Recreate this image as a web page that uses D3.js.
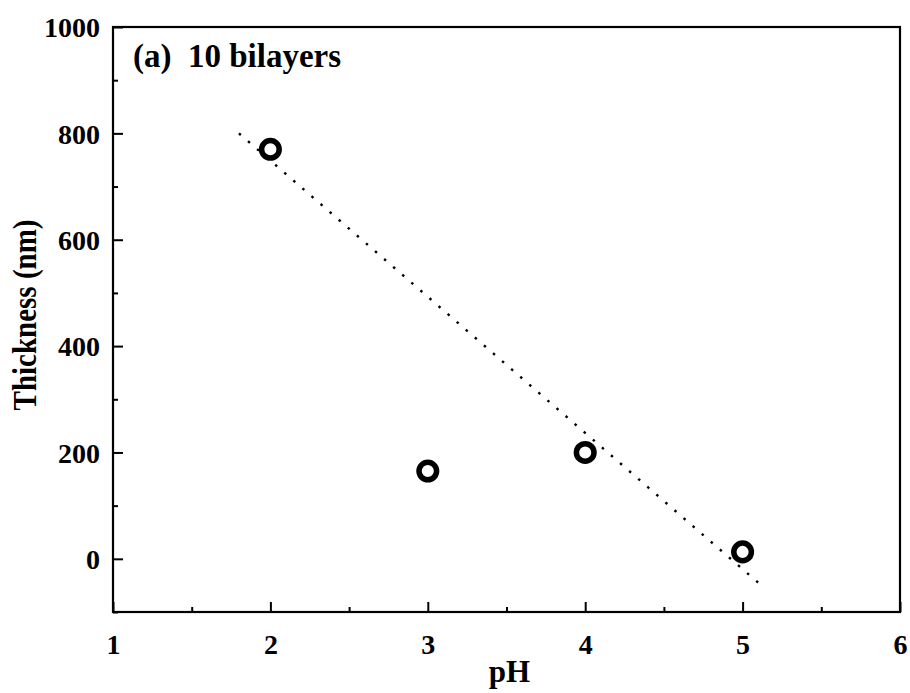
<!DOCTYPE html>
<html>
<head>
<meta charset="utf-8">
<script src="https://cdn.jsdelivr.net/npm/d3@7"></script>
<style>
  html, body { margin: 0; padding: 0; background: #fff; }
  svg { display: block; }
  text { font-family: "Liberation Serif", "Times New Roman", serif; font-weight: bold; fill: #000; }
</style>
</head>
<body>
<script>
// Film thickness after 10 bilayers versus deposition pH
const pH = [2, 3, 4, 5];
const thickness = [770, 165, 200, 13];

// Linear trend line (dotted), endpoints in data units
const fitX = [1.8, 5.1];
const fitY = [800, -45];

const xTicks = [1, 2, 3, 4, 5, 6];
const xMinorTicks = [1.5, 2.5, 3.5, 4.5, 5.5];
const yTicks = [0, 200, 400, 600, 800, 1000];
const yMinorTicks = [-100, 100, 300, 500, 700, 900];

const W = 910, H = 693;
const margin = { left: 113, right: 10, top: 27, bottom: 81 };

const svg = d3.select("body").append("svg").attr("width", W).attr("height", H);

const x = d3.scaleLinear().domain([1, 6]).range([margin.left, W - margin.right]);
const y = d3.scaleLinear().domain([-100, 1000]).range([H - margin.bottom, margin.top]);

const x0 = x.range()[0], x1 = x.range()[1];
const y0 = y.range()[0], y1 = y.range()[1];

// Bottom axis: major ticks inward with labels, minor ticks inward
const xAxis = svg.append("g").attr("transform", `translate(0,${y0})`)
  .call(d3.axisBottom(x).tickValues(xTicks).tickFormat(d3.format("d")).tickSize(-10).tickPadding(22));
const xMinor = svg.append("g").attr("transform", `translate(0,${y0})`)
  .call(d3.axisBottom(x).tickValues(xMinorTicks).tickFormat("").tickSize(-5));

// Left axis
const yAxis = svg.append("g").attr("transform", `translate(${x0},0)`)
  .call(d3.axisLeft(y).tickValues(yTicks).tickFormat(d3.format("d")).tickSize(-10).tickPadding(13));
const yMinor = svg.append("g").attr("transform", `translate(${x0},0)`)
  .call(d3.axisLeft(y).tickValues(yMinorTicks).tickFormat("").tickSize(-5));

[xAxis, xMinor, yAxis, yMinor].forEach(g => {
  g.select(".domain").remove();
  g.selectAll(".tick line").attr("stroke", "#000").attr("stroke-width", 2);
  g.selectAll(".tick text").style("font-size", "28px").attr("fill", "#000");
});
yAxis.selectAll(".tick text").attr("dy", "0.35em");

// Frame
svg.append("rect")
  .attr("x", x0).attr("y", y1)
  .attr("width", x1 - x0).attr("height", y0 - y1)
  .attr("fill", "none").attr("stroke", "#000").attr("stroke-width", 2.2);

// Dotted trend line
svg.append("line")
  .attr("x1", x(fitX[0])).attr("y1", y(fitY[0]))
  .attr("x2", x(fitX[1])).attr("y2", y(fitY[1]))
  .attr("stroke", "#000").attr("stroke-width", 2.4)
  .attr("stroke-dasharray", "2.5 9.5");

// Open circle markers
svg.selectAll("circle.pt").data(pH).join("circle")
  .attr("class", "pt")
  .attr("cx", d => x(d))
  .attr("cy", (d, i) => y(thickness[i]))
  .attr("r", 8.8)
  .attr("fill", "#fff")
  .attr("stroke", "#000")
  .attr("stroke-width", 5.5);

// Axis titles
svg.append("text")
  .attr("x", (x0 + x1) / 2 + 3).attr("y", 682)
  .attr("text-anchor", "middle")
  .style("font-size", "31px")
  .text("pH");

svg.append("text")
  .attr("transform", `translate(36,315) rotate(-90) scale(1,1.15)`)
  .attr("text-anchor", "middle")
  .style("font-size", "29px")
  .text("Thickness (nm)");

// Panel label
svg.append("text")
  .attr("x", 133).attr("y", 67)
  .style("font-size", "33px")
  .attr("xml:space", "preserve")
  .style("white-space", "pre")
  .text("(a)  10 bilayers");
</script>
</body>
</html>
